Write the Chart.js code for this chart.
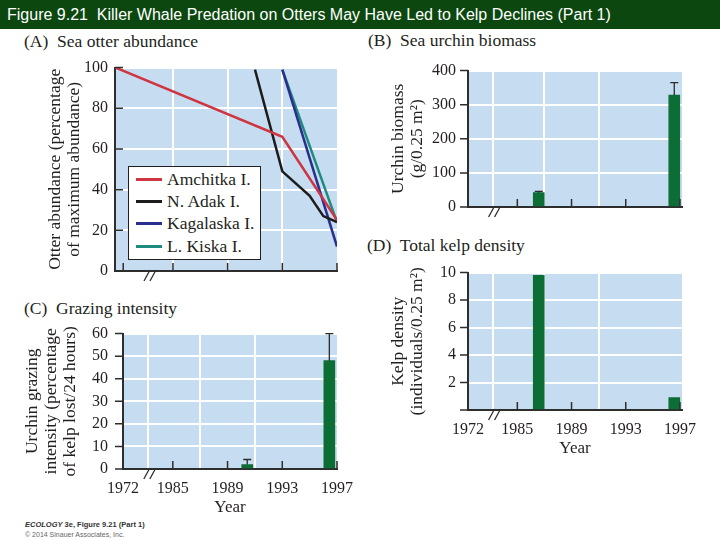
<!DOCTYPE html>
<html>
<head>
<meta charset="utf-8">
<title>Figure 9.21</title>
<script src="https://cdn.jsdelivr.net/npm/chart.js@4.4.1/dist/chart.umd.min.js"></script>
<style>
  body { margin: 0; width: 720px; height: 540px; position: relative; overflow: hidden; background: #fff; color: #231f20; font-family: 'Liberation Serif', 'Times New Roman', serif; }
  .fig-header { position: absolute; left: 0; top: 0; width: 720px; height: 29px; background: #0b470e; color: #fff; font: 16px 'Liberation Sans', Arial, sans-serif; line-height: 29px; padding-left: 7px; box-sizing: border-box; white-space: pre; }
  .panel-title { position: absolute; font-size: 17.5px; line-height: 20px; white-space: pre; }
  canvas { position: absolute; }
  .legend-container { position: absolute; left: 128px; top: 166px; width: 133px; height: 94px; box-sizing: border-box; border: 1.5px solid #231f20; background: #fff; padding: 1px 0 0 7px; }
  .legend-list { list-style: none; margin: 0; padding: 0; }
  .legend-item { display: flex; align-items: center; height: 22.3px; font-size: 17.5px; white-space: nowrap; }
  .legend-swatch { display: inline-block; width: 26px; height: 3px; margin-right: 5px; }
  .fig-footer { position: absolute; left: 25px; top: 520px; font-family: 'Liberation Sans', Arial, sans-serif; }
  .footer-main { font-size: 7.5px; font-weight: bold; line-height: 10px; color: #333; }
  .footer-copy { font-size: 7px; line-height: 9px; color: #666; }
</style>
</head>
<body>
<div class="fig-header">Figure 9.21  Killer Whale Predation on Otters May Have Led to Kelp Declines (Part 1)</div>

<div class="panel-title" style="left:24px; top:31px">(A)  Sea otter abundance</div>
<div class="panel-title" style="left:368px; top:30px">(B)  Sea urchin biomass</div>
<div class="panel-title" style="left:24px; top:298px">(C)  Grazing intensity</div>
<div class="panel-title" style="left:367px; top:235px">(D)  Total kelp density</div>

<canvas id="otterChart" width="340" height="237" style="left:20px; top:51px"></canvas>
<canvas id="urchinChart" width="340" height="180" style="left:360px; top:49px"></canvas>
<canvas id="grazingChart" width="345" height="211" style="left:20px; top:309px"></canvas>
<canvas id="kelpChart" width="350" height="210" style="left:360px; top:251px"></canvas>

<div class="legend-container"></div>

<div class="fig-footer">
  <div class="footer-main"><i>ECOLOGY</i> 3e, Figure 9.21 (Part 1)</div>
  <div class="footer-copy">© 2014 Sinauer Associates, Inc.</div>
</div>

<script>
// years on the broken x axis
const xTickYears = [1972, 1985, 1989, 1993, 1997];
const xTickLabels = ['1972', '1985', '1989', '1993', '1997'];
const gridYears = [1985, 1989, 1993];

// (A) otter abundance, % of maximum
const otterSeries = ['Amchitka I.', 'N. Adak I.', 'Kagalaska I.', 'L. Kiska I.'];
const amchitkaYears = [1970, 1993, 1997];
const amchitkaOtters = [100, 66, 25];
const adakYears = [1991, 1993, 1995, 1996, 1997];
const adakOtters = [99, 49, 37, 27, 24];
const kagalaskaYears = [1993, 1997];
const kagalaskaOtters = [99, 12];
const kiskaYears = [1993, 1997];
const kiskaOtters = [99, 24];
const otterTicks = [0, 20, 40, 60, 80, 100];

// (B) urchin biomass, g/0.25 m2
const urchinYears = [1987, 1997];
const urchinBiomass = [42, 328];
const urchinBiomassErr = [4, 37];
const biomassTicks = [0, 100, 200, 300, 400];

// (C) grazing intensity, % kelp lost / 24 h
const grazingYears = [1991, 1997];
const grazingIntensity = [2, 48];
const grazingErr = [2.2, 12];
const grazingTicks = [0, 10, 20, 30, 40, 50, 60];

// (D) kelp density, individuals/0.25 m2
const kelpYears = [1987, 1997];
const kelpDensity = [9.8, 0.9];
const kelpTicks = [0, 2, 4, 6, 8, 10];


const chartFont = 'Liberation Serif',
  textColor = '#231f20',
  axisColor = '#2e2e2e',
  plotBlue = '#c6dcf1',
  barGreen = '#0c6e34',
  breakStart = 1985,
  breakScale = 0.28,
  breakMarkYear = 1979;

// squeeze the years before the break into a short stretch
const axisPos = year => year >= breakStart ? year : breakStart - (breakStart - year) * breakScale;
const toPoints = (years, values, shift = 0) => years.map((yr, i) => ({ x: axisPos(yr) + shift, y: values[i] }));

function xAxis(min, max, showLabels, height) {
  const gridPos = gridYears.map(axisPos);
  return {
    type: 'linear',
    min: min,
    max: max,
    offset: false,
    afterBuildTicks: scale => { scale.ticks = xTickYears.map(yr => ({ value: axisPos(yr) })); },
    ticks: {
      display: showLabels, autoSkip: false, maxRotation: 0, padding: 10, color: textColor,
      font: { family: chartFont, size: 16 },
      callback: (v, i) => xTickLabels[i]
    },
    grid: {
      drawTicks: false, lineWidth: 2,
      color: ctx => ctx.tick && gridPos.includes(ctx.tick.value) ? '#ffffff' : 'rgba(0,0,0,0)'
    },
    border: { display: true, color: axisColor, width: 2 },
    title: {
      display: showLabels, text: 'Year', color: textColor,
      font: { family: chartFont, size: 17, lineHeight: 1.1 },
      padding: { top: 0, bottom: 3.6 }
    },
    afterFit: scale => { scale.height = height; }
  };
}

function yAxis(tickValues, title, titlePad, labelPad, width, hideZero) {
  return {
    type: 'linear',
    min: tickValues[0],
    max: tickValues[tickValues.length - 1],
    afterBuildTicks: scale => { scale.ticks = tickValues.map(v => ({ value: v })); },
    ticks: {
      autoSkip: false, padding: labelPad, color: textColor,
      font: { family: chartFont, size: 16 },
      callback: v => (hideZero && v === 0) ? '' : v
    },
    grid: {
      drawTicks: false, lineWidth: 2,
      color: ctx => ctx.tick && ctx.tick.value > 0 ? '#ffffff' : 'rgba(0,0,0,0)'
    },
    border: { display: true, color: axisColor, width: 2 },
    title: {
      display: true, text: title, color: textColor,
      font: { family: chartFont, size: 17.5, lineHeight: 1.1 },
      padding: { top: titlePad, bottom: 0 }
    },
    afterFit: scale => { scale.width = width; }
  };
}

const axisDecorPlugin = {
  id: 'axisDecor',
  beforeDraw(chart) {
    const { ctx, chartArea: a } = chart;
    ctx.save();
    ctx.fillStyle = plotBlue;
    ctx.fillRect(a.left, a.top, a.right - a.left, a.bottom - a.top);
    ctx.restore();
  },
  afterDraw(chart, args, opts) {
    const { ctx, chartArea: a, scales: { x, y } } = chart;
    ctx.save();
    ctx.strokeStyle = axisColor;
    ctx.lineWidth = 1.5;
    ctx.beginPath();
    x.ticks.forEach(t => {
      const px = x.getPixelForValue(t.value);
      ctx.moveTo(px, a.bottom);
      ctx.lineTo(px, a.bottom - 8);
    });
    y.ticks.forEach(t => {
      const py = y.getPixelForValue(t.value);
      ctx.moveTo(a.left, py);
      ctx.lineTo(a.left + 8 * (opts.yTickDir || -1), py);
    });
    ctx.stroke();
    // the "//" axis break
    const bx = x.getPixelForValue(axisPos(breakMarkYear));
    ctx.lineWidth = 1.3;
    ctx.beginPath();
    [-3, 3].forEach(dx => {
      ctx.moveTo(bx + dx + 3, a.bottom - 1);
      ctx.lineTo(bx + dx - 3, a.bottom + 10);
    });
    ctx.stroke();
    ctx.restore();
  }
};

const errorBarPlugin = {
  id: 'errorBars',
  afterDatasetsDraw(chart, args, opts) {
    if (!opts.errors) return;
    const { ctx, scales: { y } } = chart;
    const meta = chart.getDatasetMeta(0);
    ctx.save();
    ctx.strokeStyle = '#2b2b2b';
    ctx.lineWidth = 1.3;
    meta.data.forEach((bar, i) => {
      const value = chart.data.datasets[0].data[i].y;
      const top = y.getPixelForValue(value + opts.errors[i]);
      ctx.beginPath();
      ctx.moveTo(bar.x, bar.y);
      ctx.lineTo(bar.x, top);
      ctx.moveTo(bar.x - 4, top);
      ctx.lineTo(bar.x + 4, top);
      ctx.stroke();
    });
    ctx.restore();
  }
};

const getOrCreateLegendList = (selector) => {
  const legendContainer = document.querySelector(selector);
  let legendList = legendContainer.querySelector('ul');
  if (!legendList) {
    legendList = document.createElement('ul');
    legendList.classList.add('legend-list');
    legendContainer.appendChild(legendList);
  }
  return legendList;
};

const htmlLegendPlugin = {
  id: 'htmlLegend',
  afterUpdate(chart, args, options) {
    const ul = getOrCreateLegendList(options.containerClass);
    while (ul.firstChild) {
      ul.firstChild.remove();
    }
    chart.options.plugins.legend.labels.generateLabels(chart).forEach(item => {
      const li = document.createElement('li');
      li.classList.add('legend-item');
      const swatch = document.createElement('span');
      swatch.classList.add('legend-swatch');
      swatch.style.background = item.strokeStyle;
      const label = document.createElement('span');
      label.textContent = item.text;
      li.appendChild(swatch);
      li.appendChild(label);
      ul.appendChild(li);
    });
  }
};

const lineSet = (label, years, values, color) => ({
  label: label,
  data: toPoints(years, values),
  borderColor: color,
  backgroundColor: color,
  borderWidth: 2.5,
  pointRadius: 0,
  tension: 0,
  fill: false
});

const barSet = (years, values, shift) => ({
  data: toPoints(years, values, shift),
  backgroundColor: barGreen,
  borderWidth: 0,
  barThickness: 11
});

const baseOptions = (padding, scales, extraPlugins) => ({
  responsive: false,
  animation: false,
  layout: { padding: padding },
  scales: scales,
  plugins: Object.assign({
    legend: { display: false },
    tooltip: { enabled: false }
  }, extraPlugins)
});

new Chart(document.getElementById('otterChart'), {
  type: 'line',
  data: {
    datasets: [
      lineSet(otterSeries[0], amchitkaYears, amchitkaOtters, '#cf3541'),
      lineSet(otterSeries[1], adakYears, adakOtters, '#1c1c1c'),
      lineSet(otterSeries[2], kagalaskaYears, kagalaskaOtters, '#2a2e8c'),
      lineSet(otterSeries[3], kiskaYears, kiskaOtters, '#1d8b7d')
    ]
  },
  options: baseOptions(
    { left: 0, top: 0, right: 23, bottom: 0 },
    {
      x: xAxis(1980.76, 1997, false, 17),
      y: yAxis(otterTicks, ['Otter abundance (percentage', 'of maximum abundance)'], 25.4, 7, 95, false)
    },
    { axisDecor: { yTickDir: 1 }, htmlLegend: { containerClass: '.legend-container' } }
  ),
  plugins: [axisDecorPlugin, htmlLegendPlugin]
});

new Chart(document.getElementById('urchinChart'), {
  type: 'bar',
  data: { datasets: [barSet(urchinYears, urchinBiomass, -0.42)] },
  options: baseOptions(
    { left: 0, top: 0, right: 18, bottom: 0 },
    {
      x: xAxis(axisPos(1972), 1997.15, false, 22),
      y: yAxis(biomassTicks, ['Urchin biomass', '(g/0.25 m²)'], 28.4, 12, 108, false)
    },
    { axisDecor: { yTickDir: -1 }, errorBars: { errors: urchinBiomassErr } }
  ),
  plugins: [axisDecorPlugin, errorBarPlugin]
});

new Chart(document.getElementById('grazingChart'), {
  type: 'bar',
  data: { datasets: [barSet(grazingYears, grazingIntensity, -0.56)] },
  options: baseOptions(
    { left: 0, top: 0, right: 28, bottom: 0 },
    {
      x: xAxis(axisPos(1972), 1997, true, 51),
      y: yAxis(grazingTicks, ['Urchin grazing', 'intensity (percentage', 'of kelp lost/24 hours)'], 2.4, 15, 103, false)
    },
    { axisDecor: { yTickDir: -1 }, errorBars: { errors: grazingErr } }
  ),
  plugins: [axisDecorPlugin, errorBarPlugin]
});

new Chart(document.getElementById('kelpChart'), {
  type: 'bar',
  data: { datasets: [barSet(kelpYears, kelpDensity, -0.42)] },
  options: baseOptions(
    { left: 0, top: 0, right: 28, bottom: 0 },
    {
      x: xAxis(axisPos(1972), 1997.15, true, 51),
      y: yAxis(kelpTicks, ['Kelp density', '(individuals/0.25 m²)'], 28.4, 12, 108, true)
    },
    { axisDecor: { yTickDir: -1 } }
  ),
  plugins: [axisDecorPlugin]
});
</script>
</body>
</html>
